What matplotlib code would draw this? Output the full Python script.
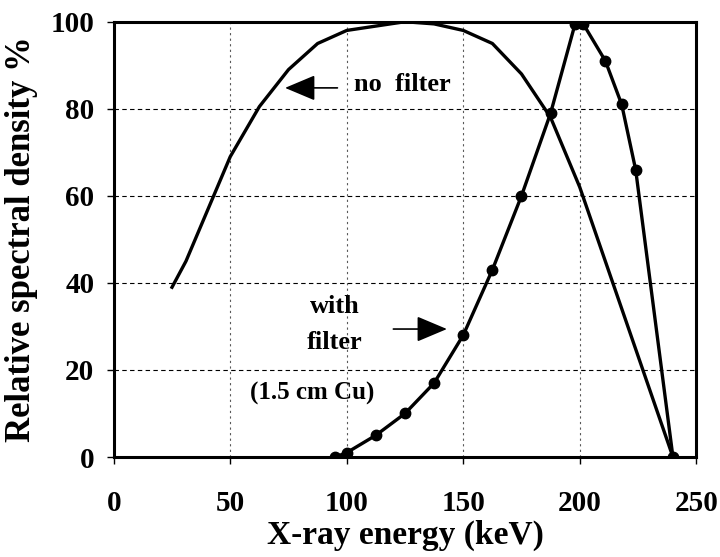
import matplotlib
matplotlib.use("Agg")
import matplotlib.pyplot as plt

# spectrum without filter
e_nofilter = [25, 31, 50, 62.5, 75, 87.5, 100, 112.5, 125, 137.5, 150, 162.5, 175, 187.5, 200, 240]
d_nofilter = [39, 45, 69, 80.5, 89, 95, 98, 99, 100, 99.5, 98, 95, 88, 78, 62, 0]

# spectrum with 1.5 cm Cu filter
e_filter = [95, 100, 112.5, 125, 137.5, 150, 162.5, 175, 187.5, 198, 200, 201.5, 211, 218, 224, 240]
d_filter = [0, 1, 5, 10, 17, 28, 43, 60, 79, 99.5, 100, 99.5, 91, 81, 66, 0]

x_ticks = [0, 50, 100, 150, 200, 250]
y_ticks = [0, 20, 40, 60, 80, 100]

plt.rcParams['font.family'] = ['Liberation Serif', 'DejaVu Serif']
plt.rcParams['font.weight'] = 'bold'

fig = plt.figure(figsize=(7.2, 5.57), dpi=100)
ax = fig.add_axes([0.158, 0.1795, 0.809, 0.7815])

# grid: dashed horizontals, finer verticals
for y in y_ticks[1:-1]:
    ax.axhline(y, color='black', lw=0.8, linestyle=(0, (4, 3)), zorder=1)
for x in x_ticks[1:-1]:
    ax.axvline(x, color='0.35', lw=0.8, linestyle=(0, (2, 3)), zorder=1)

ax.plot(e_nofilter, d_nofilter, color='black', lw=2.4, zorder=3)
ax.plot(e_filter, d_filter, color='black', lw=2.4, marker='o', markersize=7.5, zorder=4)

# annotations
arrow = dict(arrowstyle='-|>,head_length=1.9,head_width=0.8', color='black', lw=1.2,
             mutation_scale=10, shrinkA=0, shrinkB=0)
ax.text(103, 85.5, 'no  filter', fontsize=19, fontweight='bold', va='center', ha='left')
ax.annotate('', xy=(73.5, 84.8), xytext=(96, 84.8), arrowprops=arrow)
ax.text(95, 34.5, 'with', fontsize=19, fontweight='bold', va='center', ha='center')
ax.text(95, 26.4, 'filter', fontsize=19, fontweight='bold', va='center', ha='center')
ax.text(85, 14.7, '(1.5 cm Cu)', fontsize=18, fontweight='bold', va='center', ha='center')
ax.annotate('', xy=(143, 29.4), xytext=(120, 29.4), arrowprops=arrow)

ax.set_xlim(0, 250)
ax.set_ylim(0, 100)
ax.set_xticks(x_ticks)
ax.set_yticks(y_ticks)
ax.tick_params(direction='out', length=5, width=1, labelsize=21)
ax.tick_params(axis='x', pad=19)
ax.tick_params(axis='y', pad=9)
for lab in ax.get_xticklabels() + ax.get_yticklabels():
    lab.set_fontweight('bold')
for s in ax.spines.values():
    s.set_linewidth(2.2)

ax.set_xlabel('X-ray energy (keV)', fontsize=24, fontweight='bold', labelpad=2)
ax.set_ylabel('Relative spectral density %', fontsize=25, fontweight='bold', labelpad=9)

fig.savefig('out.png', dpi=100)
